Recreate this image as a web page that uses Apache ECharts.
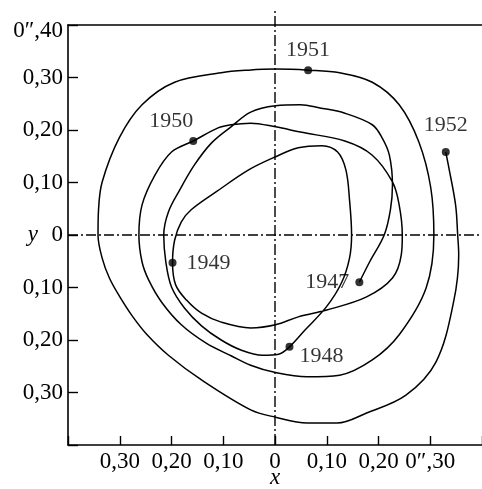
<!DOCTYPE html>
<html>
<head>
<meta charset="utf-8">
<script src="https://cdn.jsdelivr.net/npm/echarts@6/dist/echarts.min.js"></script>
<style>
  html, body { margin: 0; padding: 0; background: #fff; }
  #chart { width: 482px; height: 489px; }
</style>
</head>
<body>
<div id="chart"></div>
<script>
// Path of the pole, one yearly stretch per array; each starts at its year mark.
const seg1947 = [
  [0.163, -0.090], [0.183, -0.051], [0.211, 0.000], [0.223, 0.048], [0.227, 0.095],
  [0.221, 0.152], [0.207, 0.185], [0.188, 0.210], [0.135, 0.232], [0.087, 0.242],
  [0.049, 0.248], [0.001, 0.246], [-0.047, 0.234], [-0.085, 0.206], [-0.123, 0.175],
  [-0.156, 0.133], [-0.184, 0.086], [-0.206, 0.044], [-0.215, 0.000], [-0.211, -0.051],
  [-0.200, -0.099], [-0.175, -0.139], [-0.142, -0.173], [-0.104, -0.200], [-0.066, -0.219],
  [-0.024, -0.229], [0.007, -0.227]
];
const seg1948 = [
  [0.028, -0.213], [0.058, -0.181], [0.100, -0.136], [0.129, -0.090], [0.144, -0.044],
  [0.148, 0.000], [0.144, 0.067], [0.137, 0.124], [0.121, 0.158], [0.091, 0.170],
  [0.045, 0.166], [0.001, 0.149], [-0.051, 0.124], [-0.114, 0.082], [-0.162, 0.048],
  [-0.181, 0.025], [-0.194, -0.010]
];
const seg1949 = [
  [-0.198, -0.053], [-0.192, -0.095], [-0.171, -0.124], [-0.142, -0.149], [-0.104, -0.166],
  [-0.047, -0.177], [0.001, -0.171], [0.045, -0.156], [0.100, -0.143], [0.177, -0.118],
  [0.227, -0.082], [0.244, -0.038], [0.246, 0.000], [0.240, 0.057], [0.227, 0.101],
  [0.188, 0.152], [0.135, 0.179], [0.049, 0.196], [0.001, 0.206], [-0.047, 0.213],
  [-0.085, 0.210], [-0.110, 0.204]
];
const seg1950 = [
  [-0.158, 0.179], [-0.200, 0.158], [-0.232, 0.114], [-0.257, 0.057], [-0.263, 0.000],
  [-0.257, -0.051], [-0.244, -0.086], [-0.219, -0.128], [-0.181, -0.171], [-0.133, -0.206],
  [-0.085, -0.230], [-0.047, -0.248], [-0.003, -0.261], [0.062, -0.270], [0.125, -0.267],
  [0.188, -0.238], [0.240, -0.190], [0.292, -0.101], [0.307, 0.000], [0.301, 0.090],
  [0.278, 0.177], [0.240, 0.248], [0.188, 0.291], [0.125, 0.309]
];
const seg1951 = [
  [0.064, 0.314], [0.001, 0.316], [-0.051, 0.314], [-0.104, 0.309], [-0.194, 0.291],
  [-0.257, 0.248], [-0.301, 0.185], [-0.334, 0.101], [-0.341, 0.048], [-0.342, 0.000],
  [-0.334, -0.044], [-0.320, -0.082], [-0.301, -0.116], [-0.276, -0.154], [-0.248, -0.189],
  [-0.206, -0.229], [-0.142, -0.276], [-0.047, -0.333], [0.001, -0.347], [0.062, -0.358],
  [0.120, -0.358], [0.177, -0.339], [0.253, -0.305], [0.311, -0.242], [0.345, -0.128],
  [0.355, -0.038], [0.353, 0.000], [0.349, 0.057], [0.335, 0.133], [0.330, 0.158]
];
const years = ['1947', '1948', '1949', '1950', '1951', '1952'];

// Tick labels
const xTickValues = [-0.3, -0.2, -0.1, 0, 0.1, 0.2, 0.3];
const xTickLabels = ['0,30', '0,20', '0,10', '0', '0,10', '0,20', '0\u2033,30'];
const yTickValues = [0.4, 0.3, 0.2, 0.1, 0, -0.1, -0.2, -0.3];
const yTickLabels = ['{top|0\u2033,40}', '0,30', '0,20', '0,10', '0', '0,10', '0,20', '0,30'];

// Reference axes through the origin
const axisX = [[-0.4, 0], [0.4, 0]];
const axisY = [[0, -0.4], [0, 0.427]];

const segments = [seg1947, seg1948, seg1949, seg1950, seg1951];
const path = [].concat(...segments);
const yearMarks = segments.map(s => s[0]).concat([seg1951[seg1951.length - 1]]);

const FONT = '"Liberation Serif", "Times New Roman", serif';
const INK = '#000';

// label placement around each year mark
const markLabel = {
  '1947': { position: 'left', distance: 6 },
  '1948': { position: 'right', distance: 6, offset: [0, 9] },
  '1949': { position: 'right', distance: 10 },
  '1950': { position: 'top', distance: 5, offset: [-22, 0] },
  '1951': { position: 'top', distance: 5 },
  '1952': { position: 'top', distance: 12 }
};

function lookup(values, labels, v) {
  for (let i = 0; i < values.length; i++) {
    if (Math.abs(values[i] - v) < 1e-6) return labels[i];
  }
  return '';
}

const chart = echarts.init(document.getElementById('chart'), null, { renderer: 'canvas' });

const axisLineStyle = { color: INK, width: 1.6 };
const labelStyle = { color: INK, fontFamily: FONT, fontSize: 23 };
const nameStyle = { color: INK, fontFamily: FONT, fontSize: 23, fontStyle: 'italic' };

chart.setOption({
  animation: false,
  backgroundColor: '#fff',
  grid: { left: 68, right: 0, top: 25, bottom: 44, containLabel: false, outerBoundsMode: 'none' },
  xAxis: [{
    type: 'value', min: -0.4, max: 0.4, interval: 0.1, position: 'bottom',
    axisLine: { show: true, onZero: false, lineStyle: axisLineStyle },
    axisTick: { show: true, inside: true, length: 9, lineStyle: { color: INK, width: 1.4 } },
    axisLabel: Object.assign({ margin: 5, hideOverlap: false, formatter: v => lookup(xTickValues, xTickLabels, v) }, labelStyle),
    splitLine: { show: false },
    name: 'x', nameLocation: 'middle', nameGap: 21, nameMoveOverlap: false,
    nameTextStyle: nameStyle
  }, {
    type: 'value', min: -0.4, max: 0.4, position: 'top',
    axisLine: { show: true, onZero: false, lineStyle: axisLineStyle },
    axisTick: { show: false }, axisLabel: { show: false }, splitLine: { show: false }
  }],
  yAxis: [{
    type: 'value', min: -0.4, max: 0.4, interval: 0.1, position: 'left',
    axisLine: { show: true, onZero: false, lineStyle: axisLineStyle },
    axisTick: { show: true, inside: true, length: 10, lineStyle: { color: INK, width: 1.4 } },
    axisLabel: Object.assign({
      margin: 5, hideOverlap: false,
      formatter: v => lookup(yTickValues, yTickLabels, v),
      rich: { top: { fontFamily: FONT, fontSize: 23, color: INK, padding: [11, 0, 0, 0] } }
    }, labelStyle),
    splitLine: { show: false },
    name: 'y', nameLocation: 'middle', nameRotate: 0, nameGap: 30, nameMoveOverlap: false,
    nameTextStyle: nameStyle
  }],
  series: [
    {
      type: 'line', data: axisX, symbol: 'none', clip: false, silent: true,
      lineStyle: { color: INK, width: 1.4, type: [10, 3, 2, 3] }
    },
    {
      type: 'line', data: axisY, symbol: 'none', clip: false, silent: true,
      lineStyle: { color: INK, width: 1.4, type: [11, 3, 2, 3] }
    },
    {
      type: 'line', data: path, symbol: 'none', smooth: 0.35, clip: false,
      lineStyle: { color: INK, width: 1.5 }
    },
    {
      type: 'scatter', symbol: 'circle', symbolSize: 8, z: 5,
      itemStyle: { color: INK },
      data: yearMarks.map((p, i) => ({
        value: p,
        label: Object.assign({
          show: true, formatter: years[i], color: INK, fontFamily: FONT, fontSize: 22
        }, markLabel[years[i]])
      }))
    }
  ]
});
</script>
</body>
</html>
